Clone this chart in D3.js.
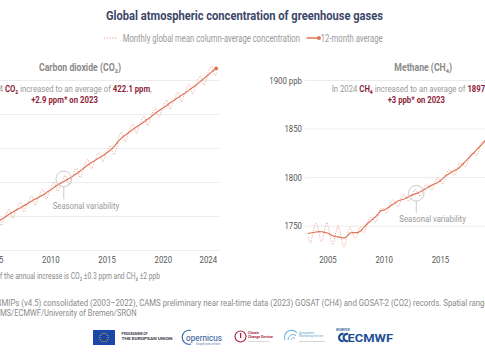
<!DOCTYPE html>
<html><head><meta charset="utf-8">
<script src="https://cdn.jsdelivr.net/npm/d3@7"></script>
<style>html,body{margin:0;padding:0;background:#fff;overflow:hidden} text{white-space:pre}</style>
</head><body>
<svg id="c" width="485" height="360" xmlns="http://www.w3.org/2000/svg"></svg>
<script>
// ---------------- DATA ----------------
const firstYear = 2003;
// CO2 monthly global mean column-average (ppm), rows = years 2003..2024 (Jan..Dec; 2024 to Oct)
const co2Monthly = [
 [374.2,374.9,375.5,376.0,376.0,375.3,374.2,373.4,373.3,374.2,375.1,375.8],
 [376.1,376.8,377.4,377.9,377.9,377.2,376.1,375.3,375.2,376.1,377.0,377.7],
 [378.1,378.8,379.4,379.9,379.9,379.2,378.1,377.3,377.2,378.1,379.0,379.7],
 [380.2,380.9,381.5,382.0,382.0,381.3,380.2,379.4,379.3,380.2,381.1,381.8],
 [382.1,382.8,383.4,383.9,383.9,383.2,382.1,381.3,381.2,382.1,383.0,383.7],
 [384.1,384.8,385.4,385.9,385.9,385.2,384.1,383.3,383.2,384.1,385.0,385.7],
 [385.9,386.6,387.2,387.7,387.7,387.0,385.9,385.1,385.0,385.9,386.8,387.5],
 [388.2,388.9,389.5,390.0,390.0,389.3,388.2,387.4,387.3,388.2,389.1,389.8],
 [390.1,390.8,391.4,391.9,391.9,391.2,390.1,389.3,389.2,390.1,391.0,391.7],
 [392.2,392.9,393.5,394.0,394.0,393.3,392.2,391.4,391.3,392.2,393.1,393.8],
 [394.8,395.5,396.1,396.6,396.6,395.9,394.8,394.0,393.9,394.8,395.7,396.4],
 [396.8,397.5,398.1,398.6,398.6,397.9,396.8,396.0,395.9,396.8,397.7,398.4],
 [398.9,399.6,400.2,400.7,400.7,400.0,398.9,398.1,398.0,398.9,399.8,400.5],
 [402.8,403.5,404.1,404.6,404.6,403.9,402.8,402.0,401.9,402.8,403.7,404.4],
 [405.2,405.9,406.5,407.0,407.0,406.3,405.2,404.4,404.3,405.2,406.1,406.8],
 [407.5,408.2,408.8,409.3,409.3,408.6,407.5,406.7,406.6,407.5,408.4,409.1],
 [410.0,410.7,411.3,411.8,411.8,411.1,410.0,409.2,409.1,410.0,410.9,411.6],
 [412.3,413.0,413.6,414.1,414.1,413.4,412.3,411.5,411.4,412.3,413.2,413.9],
 [414.5,415.2,415.8,416.3,416.3,415.6,414.5,413.7,413.6,414.5,415.4,416.1],
 [416.8,417.5,418.1,418.6,418.6,417.9,416.8,416.0,415.9,416.8,417.7,418.4],
 [419.4,420.1,420.7,421.2,421.2,420.5,419.4,418.6,418.5,419.4,420.3,421.0],
 [422.2,422.9,423.5,424.0,424.0,423.3,422.2,421.4,421.3,422.2]
];
const co2FirstMonth = 1;
// CO2 12-month average (ppm), quarterly points (Q0 = Jan 1) per year
const co2Avg = [
 [373.9,374.3,374.8,375.3],[375.8,376.2,376.7,377.2],[377.7,378.2,378.7,379.2],
 [379.7,380.3,380.8,381.3],[381.8,382.2,382.7,383.2],[383.7,384.2,384.7,385.1],
 [385.6,386.0,386.5,387.1],[387.6,388.2,388.8,389.3],[389.8,390.2,390.7,391.2],
 [391.7,392.3,392.8,393.5],[394.1,394.8,395.4,395.9],[396.4,396.9,397.4,397.9],
 [398.5,399.1,399.8,400.7],[401.8,402.6,403.4,404.0],[404.6,405.2,405.8,406.4],
 [406.9,407.5,408.1,408.7],[409.3,410.0,410.6,411.2],[411.7,412.3,412.9,413.5],
 [414.0,414.6,415.1,415.7],[416.2,416.8,417.4,418.0],[418.6,419.3,420.0,420.7],
 [421.4,422.1,422.8,423.4]
];
const co2AvgFirstQuarter = 0;

// CH4 monthly (ppb), rows = years 2003..2024 (2003 starts in April; 2024 to Oct)
const ch4Monthly = [
 [1738.5,1734.5,1732.5,1733.5,1737.5,1742.5,1746.5,1750.5,1752.5],
 [1752.5,1749.5,1744.5,1739.5,1735.5,1733.5,1734.5,1738.5,1743.5,1747.5,1751.5,1753.5],
 [1749.5,1746.5,1741.5,1736.5,1732.5,1730.5,1731.5,1735.5,1740.5,1744.5,1748.5,1750.5],
 [1747,1744,1739,1734,1730,1728,1729,1733,1738,1742,1746,1748],
 [1748,1746,1743,1740,1738,1737,1738,1740,1743,1746,1748,1749],
 [1746,1744,1743,1743,1745,1748,1751,1755,1758,1759,1759,1758],
 [1757.5,1755.3,1754.1,1753.9,1755.7,1758.5,1761.3,1765.1,1767.9,1768.7,1768.5,1767.3],
 [1767,1764.6,1763.2,1762.8,1764.4,1767,1769.6,1773.2,1775.8,1776.4,1776,1774.6],
 [1774.5,1771.9,1770.3,1769.7,1771.1,1773.5,1775.9,1779.3,1781.7,1782.1,1781.5,1779.9],
 [1779.5,1776.9,1775.3,1774.7,1776.1,1778.5,1780.9,1784.3,1786.7,1787.1,1786.5,1784.9],
 [1784.5,1782,1780.5,1780,1781.5,1784,1786.5,1790,1792.5,1793,1792.5,1791],
 [1791,1788.5,1787,1786.5,1788,1790.5,1793,1796.5,1799,1799.5,1799,1797.5],
 [1797,1794.8,1793.5,1793.3,1795,1797.8,1800.5,1804.3,1807,1807.8,1807.5,1806.3],
 [1806,1803.6,1802.2,1801.8,1803.4,1806,1808.6,1812.2,1814.8,1815.4,1815,1813.6],
 [1814,1811.8,1810.5,1810.3,1812,1814.8,1817.5,1821.3,1824,1824.8,1824.5,1823.3],
 [1826,1823.8,1822.5,1822.3,1824,1826.8,1829.5,1833.3,1836,1836.8,1836.5,1835.3],
 [1838.5,1836.4,1835.3,1835.1,1837,1839.9,1842.8,1846.6,1849.5,1850.4,1850.3,1849.1],
 [1852.5,1850.5,1849.5,1849.5,1851.5,1854.5,1857.5,1861.5,1864.5,1865.5,1865.5,1864.5],
 [1868.5,1866.5,1865.5,1865.5,1867.5,1870.5,1873.5,1877.5,1880.5,1881.5,1881.5,1880.5],
 [1883.5,1881.2,1879.8,1879.5,1881.1,1883.8,1886.4,1890.1,1892.7,1893.4,1893,1891.7],
 [1892.5,1889.9,1888.2,1887.6,1888.9,1891.3,1893.6,1897,1899.3,1899.7,1899,1897.4],
 [1897.5,1894.8,1893.1,1892.4,1893.7,1896,1898.3,1901.6,1903.9,1904.2]
];
const ch4FirstMonth = 4;
// CH4 12-month average (ppb), quarterly points; 2003 starts at Q1 (Apr)
const ch4Avg = [
 [1742.0,1742.5,1743.0],[1743.5,1744.0,1743.8,1743.2],[1742.5,1741.0,1739.5,1738.8],
 [1738.5,1737.8,1737.3,1739.0],[1742.5,1743.0,1742.8,1743.2],[1745.0,1748.5,1751.5,1754.0],
 [1756.5,1759.0,1762.0,1765.5],[1766.0,1767.5,1769.5,1771.5],[1773.5,1775.5,1776.5,1777.0],
 [1778.5,1780.0,1781.5,1782.5],[1783.5,1785.0,1786.5,1788.0],[1790.0,1791.5,1793.0,1794.0],
 [1796.0,1798.5,1801.5,1803.0],[1805.0,1806.5,1808.0,1810.0],[1813.0,1816.0,1819.0,1822.0],
 [1825.0,1828.0,1831.0,1834.0],[1837.5,1841.0,1844.5,1848.0],[1851.5,1855.5,1859.5,1863.5],
 [1867.5,1872.0,1876.0,1879.5],[1882.5,1885.5,1888.0,1890.0],[1891.5,1893.0,1894.5,1895.5],
 [1896.5,1897.5,1898.5]
];
const ch4AvgFirstQuarter = 1;

const co2YTicks = [370,380,390,400,410,420];
const ch4YTicks = [1750,1800,1850,1900];
const xTicks = [2005,2010,2015,2020,2024];
const seasonalCO2 = {year:2011.2, value:390.9};
const seasonalCH4 = {year:2012.9, value:1783.4};

// ---------------- HELPERS ----------------
const W = 485;
const FONT = 'Roboto, "Open Sans", sans-serif';
const svg = d3.select('#c');
const LINE = '#df7459', DOT = '#eca08f', RED = '#8f1f3a', GRAY = '#9a9a9a';

function monthlyPoints(rows, firstMonth){
  const pts=[];
  rows.forEach((row,i)=>row.forEach((v,j)=>{
    const m = (i===0 ? firstMonth-1+j : j);
    pts.push({t: firstYear+i+(m+0.5)/12, v});
  }));
  return pts;
}
function quarterPoints(rows, firstQ){
  const pts=[];
  rows.forEach((row,i)=>row.forEach((v,j)=>{
    const q = (i===0 ? firstQ+j : j);
    pts.push({t: firstYear+i+q/4, v});
  }));
  return pts;
}
function natLen(str,size,weight){
  const t=svg.append('text').attr('font-family',FONT).attr('font-size',size).attr('font-weight',weight||400).text(str);
  const l=t.node().getComputedTextLength(); t.remove(); return l;
}
// condensed rich text built from separate runs; parts: [[text, bold?, fill?]]
function rich(parent, parts, o){
  const g = parent.append('g');
  const runs = parts.map(p=>{
    const t = g.append('text').attr('font-family',FONT).attr('font-size',o.size)
      .attr('fill',p[2]||o.fill||GRAY).attr('y',o.y).text(p[0]);
    const w = p[1]?700:(o.weight||400);
    t.attr('font-weight',w);
    return {t, n:t.node().getComputedTextLength()};
  });
  const nat = d3.sum(runs,r=>r.n);
  let L = o.width || nat*(o.factor||0.82);
  if(o.sub) L = nat*o.sub[1]/natLen(o.sub[0],o.size,o.weight);
  const f = L/nat;
  let x = o.x;
  if(o.anchor==='middle') x = o.x - L/2;
  if(o.anchor==='end') x = o.x - L;
  runs.forEach(r=>{
    const l=r.n*f;
    r.t.attr('x',x).attr('textLength',l).attr('lengthAdjust','spacingAndGlyphs');
    x+=l;
  });
  return g;
}
// condense tick labels; drop labels that fall completely outside the visible page
function condenseAxis(g, anchor, factor, offX){
  g.selectAll('.tick').each(function(){
    const tick=d3.select(this);
    const m=/translate\(([-\d.e]+),/.exec(tick.attr('transform')||'');
    const tx=(m? +m[1] : 0)+offX;
    const text=tick.select('text');
    const L=text.node().getComputedTextLength()*factor;
    const x0=+text.attr('x')||0;
    const xs = anchor==='middle'? x0-L/2 : x0-L;
    if(tx+xs+L < 0 || tx+xs > W){ text.remove(); return; }
    text.attr('text-anchor','start').attr('textLength',L).attr('lengthAdjust','spacingAndGlyphs').attr('x', xs);
  });
}

function panel(xs, ys, ticks, unit, monthly, avg){
  const g = svg.append('g');
  const [x0,x1] = xs.range();
  const ya = g.append('g').attr('transform',`translate(${x0},0)`)
    .call(d3.axisLeft(ys).tickValues(ticks).tickSize(-(x1-x0)).tickPadding(3)
      .tickFormat((d,i)=> i===ticks.length-1 ? d+' '+unit : d));
  ya.select('.domain').remove();
  ya.selectAll('.tick line').attr('stroke','#ececec').attr('stroke-width',1);
  ya.selectAll('.tick text').attr('font-family',FONT).attr('font-size',9.5).attr('fill','#555');
  condenseAxis(ya,'end',0.82,x0);
  const xa = g.append('g').attr('transform',`translate(0,250)`)
    .call(d3.axisBottom(xs).tickValues(xTicks).tickSize(0).tickPadding(5.8).tickFormat(d3.format('d')));
  xa.select('.domain').remove();
  xa.selectAll('.tick text').attr('font-family',FONT).attr('font-size',9.5).attr('fill','#555');
  condenseAxis(xa,'middle',0.82,0);
  g.append('path').datum(monthly).attr('fill','none').attr('stroke',DOT).attr('stroke-width',0.9)
    .attr('stroke-dasharray','1.2,1.4')
    .attr('d', d3.line().x(d=>xs(d.t)).y(d=>ys(d.v)));
  g.append('path').datum(avg).attr('fill','none').attr('stroke',LINE).attr('stroke-width',1.2)
    .attr('d', d3.line().x(d=>xs(d.t)).y(d=>ys(d.v)));
  const last = avg[avg.length-1];
  g.append('circle').attr('cx',xs(last.t)).attr('cy',ys(last.v)).attr('r',1.9).attr('fill',LINE);
  return g;
}

// ---------------- SCALES ----------------
const xCO2 = d3.scaleLinear().domain([2003,2025]).range([-28.5,219]);
const yCO2 = d3.scaleLinear().domain([370,420]).range([250,80]);
const xCH4 = d3.scaleLinear().domain([2003,2025]).range([304.9,552.4]);
const yCH4 = d3.scaleLinear().domain([1725,1900]).range([250,80]);

panel(xCO2,yCO2,co2YTicks,'ppm',monthlyPoints(co2Monthly,co2FirstMonth),quarterPoints(co2Avg,co2AvgFirstQuarter));
panel(xCH4,yCH4,ch4YTicks,'ppb',monthlyPoints(ch4Monthly,ch4FirstMonth),quarterPoints(ch4Avg,ch4AvgFirstQuarter));

// ---------------- TEXTS ----------------
rich(svg,[['Global atmospheric concentration of greenhouse gases']],{x:106,y:20,size:13.5,weight:700,fill:'#3b4768',width:277});
svg.append('line').attr('x1',104).attr('x2',117).attr('y1',38).attr('y2',38)
  .attr('stroke',DOT).attr('stroke-width',1).attr('stroke-dasharray','1.2,1.6');
rich(svg,[['Monthly global mean column-average concentration']],{x:122.7,y:41.5,size:10,fill:GRAY,width:177.3});
svg.append('line').attr('x1',306.5).attr('x2',319).attr('y1',38).attr('y2',38).attr('stroke',LINE).attr('stroke-width',1.5);
svg.append('circle').attr('cx',319).attr('cy',38).attr('r',2).attr('fill',LINE);
rich(svg,[['12-month average']],{x:320.7,y:41.5,size:10,fill:GRAY,width:62});

rich(svg,[['Carbon dioxide (CO₂)']],{x:80,y:70.7,size:10.5,weight:700,fill:'#8a8a8a',width:82,anchor:'middle'});
rich(svg,[['Methane (CH₄)']],{x:423.2,y:70.7,size:10.5,weight:700,fill:'#8a8a8a',width:57.7,anchor:'middle'});

rich(svg,[['In 2024 '],['CO₂',1,RED],[' increased to an average of '],['422.1 ppm',1,RED],[',']],
  {x:64.5,y:92.3,size:9.8,fill:GRAY,width:174.4,anchor:'middle'});
rich(svg,[['+2.9 ppm* on 2023',1,RED]],{x:64.5,y:103.3,size:9.8,fill:RED,width:66.7,anchor:'middle'});
rich(svg,[['In 2024 '],['CH₄',1,RED],[' increased to an average of '],['1897 ppb',1,RED],[',']],
  {x:331.7,y:92.3,size:9.8,fill:GRAY,width:170});
rich(svg,[['+3 ppb* on 2023',1,RED]],{x:416.3,y:103.3,size:9.8,fill:RED,width:57.3,anchor:'middle'});

function seasonal(xs,ys,s,tx,ty){
  const cx=xs(s.year), cy=ys(s.value);
  svg.append('circle').attr('cx',cx).attr('cy',cy).attr('r',7.8).attr('fill','none').attr('stroke','#c4c4c4').attr('stroke-width',0.9);
  svg.append('line').attr('x1',cx).attr('x2',cx).attr('y1',cy+7.8).attr('y2',ty-9.5).attr('stroke','#c4c4c4').attr('stroke-width',0.9);
  rich(svg,[['Seasonal variability']],{x:tx,y:ty,size:9.8,fill:GRAY,width:66.5});
}
seasonal(xCO2,yCO2,seasonalCO2,52.7,208.7);
seasonal(xCH4,yCH4,seasonalCH4,399.3,222.3);

rich(svg,[['*The uncertainty of the annual increase is CO₂ ±0.3 ppm and CH₄ ±2 ppb']],
  {x:160,y:278.7,size:8.5,fill:'#8a8a8a',anchor:'end',sub:['f the annual increase is CO₂ ±0.3 ppm and CH₄ ±2 ppb',160]});
(function(){
  const full='Data: C3S/Obs4MIPs (v4.5) consolidated (2003–2022), CAMS preliminary near real-time data (2023) GOSAT (CH4) and GOSAT-2 (CO2) records. Spatial range: 60°S–60°N.';
  const pre='Data: C3S/Obs4';
  const vis='MIPs (v4.5) consolidated (2003–2022), CAMS preliminary near real-time data (2023) GOSAT (CH4) and GOSAT-2 (CO2) records. Spatial rang';
  const f=483/natLen(vis,8.5);
  rich(svg,[[full]],{x:1.5-natLen(pre,8.5)*f,y:305.7,size:8.5,fill:'#8a8a8a',factor:f});
})();
rich(svg,[['Credit: C3S/CAMS/ECMWF/University of Bremen/SRON']],
  {x:136.7,y:315.7,size:8.5,fill:'#8a8a8a',anchor:'end',sub:['MS/ECMWF/University of Bremen/SRON',136.7]});

// ---------------- LOGOS ----------------
const lg = svg.append('g');
lg.append('rect').attr('x',93).attr('y',330).attr('width',22).attr('height',15).attr('fill','#1a47a8');
d3.range(12).forEach(i=>{const a=i*Math.PI/6;
  lg.append('circle').attr('cx',104+4.3*Math.cos(a)).attr('cy',337.5+4.3*Math.sin(a)).attr('r',0.55).attr('fill','#f5d000');});
rich(lg,[['PROGRAMME OF']],{x:121.5,y:334.8,size:4.3,weight:700,fill:'#3c3c4a',width:26});
rich(lg,[['THE EUROPEAN UNION']],{x:121.5,y:340.3,size:4.3,weight:700,fill:'#3c3c4a',width:51});
lg.append('path').attr('d','M191,330.5 A7,7 0 1 0 191,344').attr('fill','none').attr('stroke','#2a62a8').attr('stroke-width',1.1);
rich(lg,[['opernicus']],{x:186,y:341,size:8.5,fill:'#1d4f91',width:36});
rich(lg,[['Europe\u2019s eyes on Earth']],{x:196,y:344.8,size:2.6,fill:'#5a7fb0',width:24});
lg.append('circle').attr('cx',240.5).attr('cy',336.5).attr('r',5.5).attr('fill','none').attr('stroke','#a81e40').attr('stroke-width',1.1);
lg.append('rect').attr('x',240).attr('y',333).attr('width',1.2).attr('height',5).attr('fill','#a81e40');
rich(lg,[['Climate']],{x:248,y:333.5,size:3.6,weight:700,fill:'#a81e40',width:11});
rich(lg,[['Change Service']],{x:248,y:337.5,size:3.6,weight:700,fill:'#a81e40',width:25});
rich(lg,[['Climate Copernicus eu']],{x:248,y:342,size:2.4,fill:'#999',width:22});
lg.append('path').attr('d','M285,340 A7,7 0 0 1 297,333').attr('fill','none').attr('stroke','#6fb3dd').attr('stroke-width',1.1);
lg.append('path').attr('d','M288,340 A5,5 0 0 1 296,335.5').attr('fill','none').attr('stroke','#6fb3dd').attr('stroke-width',1);
lg.append('path').attr('d','M291,340 A3,3 0 0 1 295,338').attr('fill','none').attr('stroke','#6fb3dd').attr('stroke-width',0.9);
rich(lg,[['Atmosphere']],{x:299,y:333.5,size:3.4,fill:'#5aa0cc',width:15});
rich(lg,[['Monitoring Service']],{x:299,y:337,size:3.4,fill:'#5aa0cc',width:24});
rich(lg,[['atmosphere.copernicus.eu']],{x:299,y:342,size:2.4,fill:'#999',width:26});
rich(lg,[['IMPLEMENTED BY']],{x:336,y:331.2,size:2.6,weight:700,fill:'#1d4f91',width:14});
lg.append('path').attr('d','M343.5,334 A3.6,3.6 0 1 0 343.5,341').attr('fill','none').attr('stroke','#1d4f91').attr('stroke-width',2.2);
lg.append('path').attr('d','M348,334 A3.6,3.6 0 1 0 348,341').attr('fill','none').attr('stroke','#1d4f91').attr('stroke-width',2.2);
rich(lg,[['ECMWF']],{x:347.5,y:342.3,size:10.5,weight:700,fill:'#1d4f91',width:45.5});
</script>
</body></html>
